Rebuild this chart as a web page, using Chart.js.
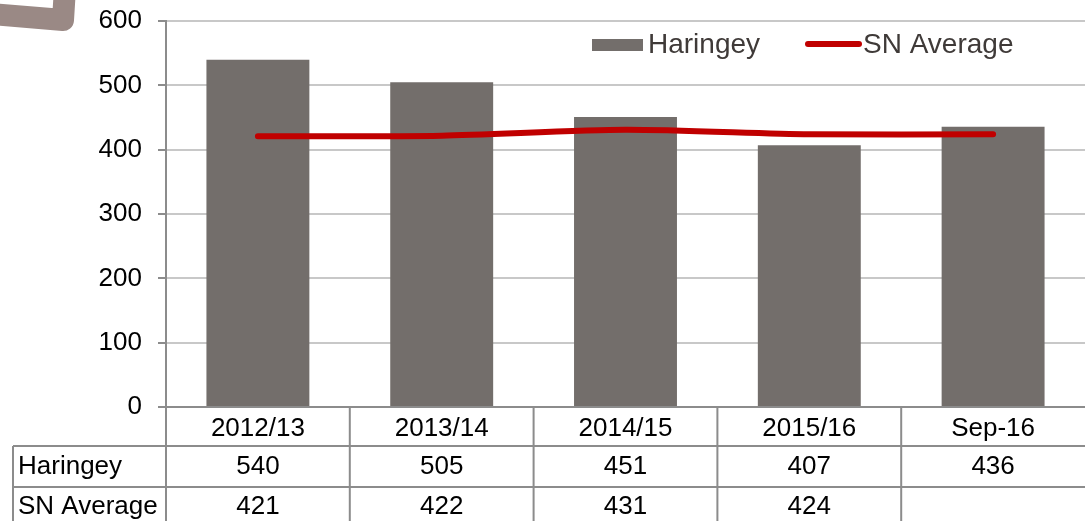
<!DOCTYPE html>
<html>
<head>
<meta charset="utf-8">
<script src="https://cdn.jsdelivr.net/npm/chart.js@4/dist/chart.umd.min.js"></script>
<style>
  html, body { margin: 0; padding: 0; background: #fff; }
  #wrap { width: 1085px; height: 521px; position: relative; }
</style>
</head>
<body>
<div id="wrap"><canvas id="chart"></canvas></div>
<script>
// data
const categories = ['2012/13', '2013/14', '2014/15', '2015/16', 'Sep-16'];
const haringey = [540, 505, 451, 407, 436];
const snAverage = [421, 422, 431, 424, 424];
// what the data table under the chart shows (Sep-16 SN cell is empty)
const tableHaringey = ['540', '505', '451', '407', '436'];
const tableSnAverage = ['421', '422', '431', '424', ''];
const yTicks = [0, 100, 200, 300, 400, 500, 600];

const FONT = '"Liberation Sans", Arial, Helvetica, sans-serif';
const BAR_COLOR = '#736e6b';
const LINE_COLOR = '#c00000';
const TABLE_LINE = '#8c8c8c';

// the brown corner shape in the top-left (slide decoration)
const cornerShape = {
    id: 'cornerShape',
    afterDraw(chart) {
        const ctx = chart.ctx;
        ctx.save();
        ctx.strokeStyle = '#9a8985';
        ctx.lineWidth = 22;
        ctx.lineJoin = 'round';
        ctx.beginPath();
        ctx.moveTo(-10, 14);
        ctx.lineTo(63, 20);
        ctx.lineTo(65, -12);
        ctx.stroke();
        ctx.restore();
    }
};

// legend drawn inside the plot area, top right
const insideLegend = {
    id: 'insideLegend',
    afterDatasetsDraw(chart) {
        const ctx = chart.ctx;
        const [bars, line] = chart.data.datasets;
        ctx.save();
        ctx.font = '28px ' + FONT;
        ctx.textBaseline = 'middle';

        ctx.fillStyle = bars.backgroundColor;
        ctx.fillRect(592, 39, 51, 12);
        ctx.fillStyle = '#3f3a38';
        ctx.fillText(bars.label, 648, 45);

        ctx.strokeStyle = line.borderColor;
        ctx.lineWidth = 6;
        ctx.lineCap = 'round';
        ctx.beginPath();
        ctx.moveTo(808, 44);
        ctx.lineTo(859, 44);
        ctx.stroke();
        ctx.fillText(line.label, 863, 45);
        ctx.restore();
    }
};

// data table under the x axis
const dataTable = {
    id: 'dataTable',
    afterDraw(chart) {
        const ctx = chart.ctx;
        const x = chart.scales.x;
        const area = chart.chartArea;
        const colW = x.width / categories.length;
        const top = area.bottom;
        const row1 = 446, row2 = 487, bottom = chart.height;
        ctx.save();
        ctx.strokeStyle = TABLE_LINE;
        ctx.lineWidth = 2;
        ctx.beginPath();
        // horizontal rules
        ctx.moveTo(13, row1); ctx.lineTo(chart.width, row1);
        ctx.moveTo(13, row2); ctx.lineTo(chart.width, row2);
        // left border of the row header column
        ctx.moveTo(13, row1); ctx.lineTo(13, bottom);
        // column borders
        for (let i = 0; i < categories.length; i++) {
            const left = x.left + i * colW;
            ctx.moveTo(left, top); ctx.lineTo(left, bottom);
        }
        ctx.stroke();

        ctx.fillStyle = '#000';
        ctx.font = '26px ' + FONT;
        ctx.textBaseline = 'middle';
        ctx.textAlign = 'left';
        ctx.fillText('Haringey', 18, 467);
        ctx.fillText('SN Average', 18, 507);
        ctx.textAlign = 'center';
        categories.forEach((c, i) => {
            const cx = x.getPixelForValue(i);
            ctx.fillText(tableHaringey[i], cx, 467);
            ctx.fillText(tableSnAverage[i], cx, 507);
        });
        ctx.restore();
    }
};

new Chart(document.getElementById('chart'), {
    data: {
        labels: categories,
        datasets: [{
            type: 'bar',
            label: 'Haringey',
            data: haringey,
            backgroundColor: BAR_COLOR,
            categoryPercentage: 1,
            barPercentage: 0.56,
            order: 1
        }, {
            type: 'line',
            label: 'SN Average',
            data: snAverage,
            borderColor: LINE_COLOR,
            backgroundColor: LINE_COLOR,
            borderWidth: 6,
            borderCapStyle: 'round',
            pointRadius: 0,
            tension: 0.25,
            order: 0
        }]
    },
    options: {
        responsive: true,
        maintainAspectRatio: false,
        animation: false,
        layout: { padding: { top: 21, right: 0, left: 0, bottom: 0 } },
        plugins: {
            legend: { display: false },
            tooltip: { enabled: false }
        },
        scales: {
            x: {
                offset: true,
                grid: { display: false },
                border: { display: true, color: TABLE_LINE, width: 2 },
                ticks: {
                    color: '#000',
                    font: { family: FONT, size: 26 },
                    padding: -2,
                    maxRotation: 0
                },
                afterFit: (scale) => { scale.height = 114; }
            },
            y: {
                min: 0,
                max: 600,
                afterBuildTicks: (scale) => { scale.ticks = yTicks.map(v => ({ value: v })); },
                grid: {
                    color: '#c8c8c8',
                    lineWidth: 2,
                    tickLength: 8,
                    tickColor: '#8c8c8c'
                },
                border: { display: true, color: '#8c8c8c', width: 2 },
                ticks: {
                    color: '#000',
                    font: { family: FONT, size: 26, lineHeight: 0.4 },
                    padding: 16
                },
                afterFit: (scale) => { scale.width = 166; }
            }
        }
    },
    plugins: [cornerShape, insideLegend, dataTable]
});
</script>
</body>
</html>
